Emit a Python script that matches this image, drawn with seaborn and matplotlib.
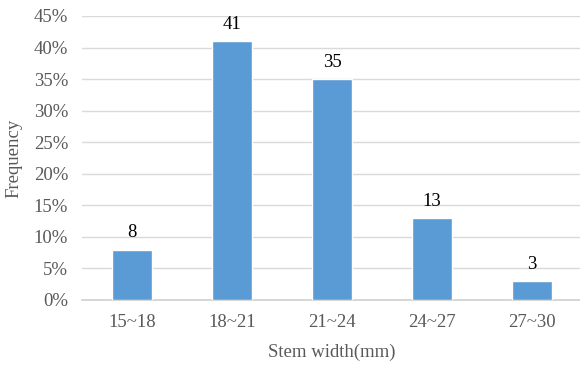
import matplotlib
matplotlib.use("Agg")
import matplotlib.pyplot as plt
import seaborn as sns
import pandas as pd
from matplotlib.ticker import FuncFormatter

categories = ["15~18", "18~21", "21~24", "24~27", "27~30"]
counts = [8, 41, 35, 13, 3]
yticks = [0, 5, 10, 15, 20, 25, 30, 35, 40, 45]

sns.set_style("white")
plt.rcParams["font.family"] = ["Liberation Serif", "DejaVu Serif"]

df = pd.DataFrame({"width": categories, "freq": counts})

fig = plt.figure(figsize=(5.8, 3.65), dpi=100)
ax = fig.add_axes([82 / 580, 1 - 300 / 365, 500 / 580, 284 / 365])

sns.barplot(data=df, x="width", y="freq", color="#5B9BD5", width=0.4,
            saturation=1, ax=ax, zorder=3)

for p, v in zip(ax.patches, counts):
    ax.text(p.get_x() + p.get_width() / 2, v + 1.3, str(v),
            ha="center", va="bottom", fontsize=13.5, color="#000000")

ax.set_ylim(0, 45)
ax.set_xlim(-0.5, len(categories) - 0.5)
ax.set_yticks(yticks)
ax.yaxis.set_major_formatter(FuncFormatter(lambda v, _: f"{int(v)}%"))
ax.grid(axis="y", color="#D9D9D9", linewidth=1, zorder=0)
ax.set_axisbelow(True)
for s in ["top", "right", "left"]:
    ax.spines[s].set_visible(False)
ax.spines["bottom"].set_color("#D0D0D0")
ax.spines["bottom"].set_linewidth(1.2)
ax.tick_params(axis="both", length=0, labelsize=13.5, labelcolor="#595959", pad=10)

ax.set_xlabel("Stem width(mm)", fontsize=13.5, color="#595959", labelpad=9)
ax.set_ylabel("Frequency", fontsize=13.5, color="#595959", labelpad=8)

fig.savefig("out.png", dpi=100)
